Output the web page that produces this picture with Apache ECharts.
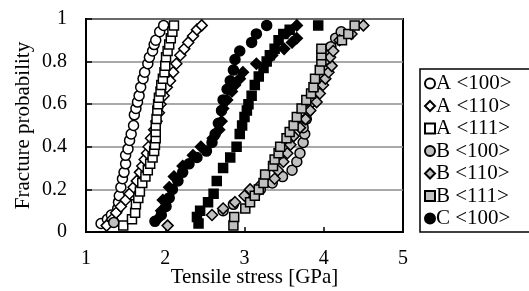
<!DOCTYPE html>
<html>
<head>
<meta charset="utf-8">
<script src="https://cdn.jsdelivr.net/npm/echarts@6/dist/echarts.min.js"></script>
<style>
html, body { margin: 0; padding: 0; background: #fff; }
#chart { width: 529px; height: 291px; }
</style>
</head>
<body>
<div id="chart"></div>
<script>
// 图例名称
var legendNames = ['A <100>', 'A <110>', 'A <111>', 'B <100>', 'B <110>', 'B <111>', 'C <100>'];
var xTicks = [1, 2, 3, 4, 5];
var yTicks = [0, 0.2, 0.4, 0.6, 0.8, 1];

// 数据 [应力 GPa, 破坏概率]
var a100 = [[1.19,0.04],[1.27,0.06],[1.32,0.08],[1.40,0.11],[1.41,0.14],[1.42,0.17],[1.44,0.21],[1.46,0.25],[1.48,0.28],[1.50,0.32],[1.50,0.36],[1.53,0.39],[1.55,0.43],[1.57,0.46],[1.60,0.50],[1.61,0.55],[1.63,0.58],[1.65,0.61],[1.67,0.64],[1.69,0.68],[1.72,0.72],[1.74,0.75],[1.78,0.79],[1.80,0.82],[1.84,0.85],[1.86,0.88],[1.88,0.90],[1.93,0.94],[1.98,0.97]];
var a110 = [[1.26,0.03],[1.33,0.06],[1.38,0.09],[1.44,0.12],[1.50,0.15],[1.55,0.18],[1.60,0.21],[1.64,0.24],[1.68,0.28],[1.71,0.31],[1.74,0.34],[1.77,0.37],[1.79,0.40],[1.82,0.44],[1.86,0.48],[1.89,0.52],[1.92,0.56],[1.94,0.60],[1.98,0.64],[2.02,0.68],[2.06,0.71],[2.10,0.75],[2.14,0.79],[2.19,0.83],[2.24,0.86],[2.29,0.89],[2.35,0.92],[2.40,0.95],[2.46,0.97]];
var a111 = [[1.47,0.03],[1.58,0.06],[1.62,0.09],[1.63,0.13],[1.66,0.16],[1.68,0.19],[1.71,0.23],[1.75,0.26],[1.78,0.29],[1.81,0.32],[1.84,0.35],[1.86,0.38],[1.87,0.41],[1.88,0.44],[1.88,0.47],[1.88,0.50],[1.89,0.53],[1.90,0.57],[1.91,0.60],[1.92,0.63],[1.94,0.66],[1.95,0.69],[1.97,0.72],[1.99,0.75],[2.00,0.78],[2.01,0.82],[2.03,0.85],[2.05,0.88],[2.07,0.91],[2.09,0.94],[2.11,0.97]];
var b100 = [[1.35,0.045],[2.73,0.10],[2.86,0.13],[3.05,0.17],[3.20,0.20],[3.35,0.23],[3.48,0.26],[3.60,0.29],[3.66,0.33],[3.70,0.37],[3.74,0.42],[3.76,0.46],[3.74,0.49],[3.78,0.53],[3.81,0.57],[3.84,0.61],[3.88,0.65],[3.93,0.69],[3.97,0.73],[4.01,0.77],[4.04,0.81],[4.06,0.84],[4.09,0.87],[4.15,0.91],[4.22,0.94]];
var b110 = [[2.03,0.03],[2.59,0.08],[2.73,0.11],[2.88,0.14],[3.00,0.17],[3.07,0.20],[3.20,0.22],[3.38,0.25],[3.42,0.29],[3.49,0.33],[3.54,0.37],[3.58,0.41],[3.62,0.45],[3.70,0.49],[3.77,0.53],[3.83,0.57],[3.91,0.61],[3.95,0.65],[3.99,0.69],[4.02,0.72],[4.06,0.75],[4.10,0.78],[4.08,0.82],[4.12,0.85],[4.20,0.90],[4.35,0.93],[4.50,0.97]];
var b111 = [[2.86,0.03],[2.87,0.07],[3.01,0.11],[3.07,0.14],[3.13,0.17],[3.18,0.20],[3.24,0.23],[3.26,0.27],[3.36,0.31],[3.38,0.34],[3.43,0.37],[3.45,0.40],[3.53,0.44],[3.57,0.47],[3.62,0.50],[3.66,0.54],[3.72,0.58],[3.78,0.62],[3.84,0.65],[3.87,0.68],[3.89,0.72],[3.95,0.76],[3.97,0.80],[3.97,0.83],[3.97,0.86],[4.23,0.90],[4.31,0.93],[4.39,0.97]];
var c100 = [[1.87,0.05],[1.95,0.08],[2.01,0.12],[2.05,0.16],[2.09,0.20],[2.16,0.24],[2.22,0.28],[2.30,0.32],[2.40,0.35],[2.52,0.38],[2.59,0.42],[2.63,0.46],[2.67,0.51],[2.71,0.57],[2.73,0.62],[2.78,0.67],[2.82,0.71],[2.86,0.76],[2.88,0.81],[2.94,0.85],[3.09,0.89],[3.15,0.93],[3.28,0.97]];
var c110 = [[1.93,0.07],[1.95,0.10],[1.97,0.15],[2.05,0.21],[2.11,0.26],[2.22,0.31],[2.35,0.36],[2.45,0.40],[2.60,0.44],[2.68,0.48],[2.71,0.52],[2.73,0.58],[2.78,0.62],[2.84,0.66],[2.88,0.69],[2.94,0.72],[2.98,0.75],[3.15,0.79],[3.35,0.83],[3.50,0.86],[3.60,0.89],[3.66,0.91],[3.55,0.94],[3.66,0.97]];
var c111 = [[2.42,0.04],[2.40,0.07],[2.44,0.10],[2.54,0.14],[2.61,0.18],[2.65,0.24],[2.73,0.30],[2.82,0.35],[2.90,0.40],[2.94,0.46],[2.97,0.50],[3.00,0.54],[3.03,0.57],[3.05,0.60],[3.09,0.64],[3.13,0.69],[3.18,0.73],[3.24,0.77],[3.28,0.80],[3.32,0.83],[3.38,0.86],[3.43,0.90],[3.49,0.93],[3.57,0.95],[3.93,0.97]];

var FONT = 'Liberation Serif';
var GRAY = '#c0c0c0';

function sc(name, data, symbol, size, fill) {
	return {
		type: 'scatter',
		name: name,
		data: data,
		symbol: symbol,
		symbolSize: size,
		itemStyle: { color: fill, borderColor: '#000', borderWidth: 1.5, opacity: 1 },
		emphasis: { disabled: true }
	};
}

var chart = echarts.init(document.getElementById('chart'));
chart.setOption({
	animation: false,
	backgroundColor: '#fff',
	textStyle: { fontFamily: FONT },
	grid: { left: 86, right: 126, top: 19, bottom: 59, outerBoundsMode: 'none', containLabel: false, show: true, borderColor: '#000', borderWidth: 2, backgroundColor: 'transparent' },
	legend: {
		data: legendNames,
		orient: 'vertical',
		left: 420, top: 69,
		padding: [4, 19, 3, 4],
		itemGap: 1.5,
		itemWidth: 10, itemHeight: 10,
		borderColor: '#000', borderWidth: 1.5,
		textStyle: { fontFamily: FONT, fontSize: 21, color: '#000', padding: [0, 0, 0, -4] }
	},
	xAxis: {
		type: 'value', min: xTicks[0], max: xTicks[xTicks.length - 1], interval: 1,
		name: 'Tensile stress [GPa]', nameLocation: 'middle', nameGap: 35, nameMoveOverlap: false,
		nameTextStyle: { fontFamily: FONT, fontSize: 21, color: '#000', padding: [0, 0, 0, 20] },
		axisLine: { lineStyle: { color: '#000', width: 2 } },
		axisTick: { inside: true, length: 5, lineStyle: { color: '#000', width: 1.5 } },
		axisLabel: { fontFamily: FONT, fontSize: 20, color: '#000', margin: 17 },
		splitLine: { show: false }
	},
	yAxis: {
		type: 'value', min: yTicks[0], max: yTicks[yTicks.length - 1], interval: 0.2,
		name: 'Fracture probability', nameLocation: 'middle', nameGap: 52, nameMoveOverlap: false,
		nameTextStyle: { fontFamily: FONT, fontSize: 21, color: '#000' },
		axisLine: { lineStyle: { color: '#000', width: 2 } },
		axisTick: { inside: true, length: 6, lineStyle: { color: '#000', width: 1.5 } },
		axisLabel: { fontFamily: FONT, fontSize: 20, color: '#000', margin: 19 },
		splitLine: { lineStyle: { color: '#8c8c8c', width: 1.5 } }
	},
	series: [
		sc('A <100>', a100, 'circle', 10, '#fff'),
		sc('A <110>', a110, 'diamond', 11, '#fff'),
		sc('A <111>', a111, 'rect', 9, '#fff'),
		sc('B <100>', b100, 'circle', 10, GRAY),
		sc('B <110>', b110, 'diamond', 11, GRAY),
		sc('B <111>', b111, 'rect', 9, GRAY),
		sc('C <110>', c110, 'diamond', 11, '#000'),
		sc('C <100>', c100, 'circle', 10, '#000'),
		sc('C <111>', c111, 'rect', 9, '#000')
	]
});
</script>
</body>
</html>
